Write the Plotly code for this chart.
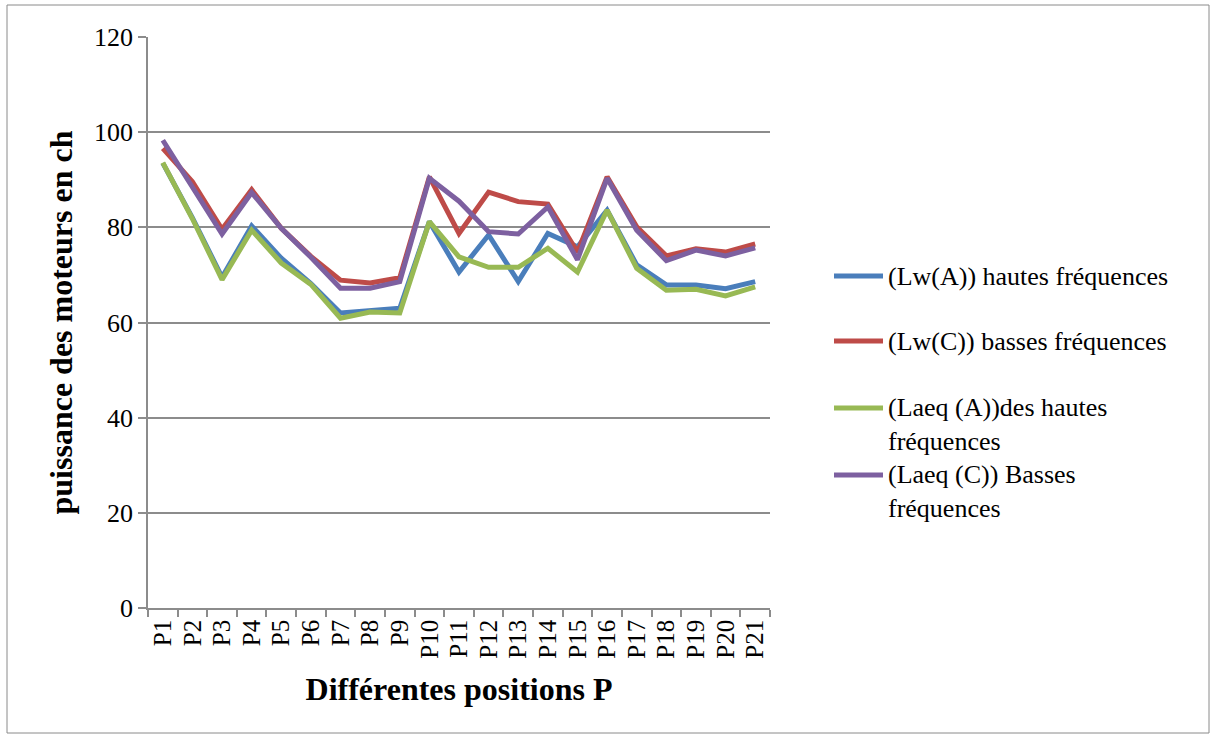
import plotly.graph_objects as go

categories = [f"P{i}" for i in range(1, 22)]

lw_a = [93.5, 82.0, 69.5, 80.3, 73.5, 68.2, 62.0, 62.6, 63.0, 81.2, 70.6, 78.4, 68.6, 78.7, 75.9, 83.6, 72.1, 67.9, 67.9, 67.1, 68.6]
lw_c = [96.6, 89.6, 79.6, 87.9, 79.8, 73.9, 68.9, 68.3, 69.4, 90.6, 78.7, 87.4, 85.4, 84.9, 74.8, 90.6, 80.1, 74.0, 75.5, 74.8, 76.5]
laeq_a = [93.6, 81.8, 69.0, 79.4, 72.5, 68.0, 60.9, 62.2, 62.0, 81.2, 73.8, 71.6, 71.6, 75.6, 70.6, 83.6, 71.4, 66.8, 67.0, 65.6, 67.5]
laeq_c = [98.3, 88.2, 78.6, 87.3, 79.8, 73.7, 67.2, 67.2, 68.6, 90.3, 85.5, 79.1, 78.6, 84.3, 73.2, 90.3, 79.4, 73.0, 75.2, 74.0, 75.7]

series_names = [
    "(Lw(A)) hautes fréquences",
    "(Lw(C)) basses fréquences",
    "(Laeq (A))des hautes<br>fréquences",
    "(Laeq (C)) Basses<br>fréquences",
]
series_values = [lw_a, lw_c, laeq_a, laeq_c]
colors = ["#4A7EBB", "#BE4B48", "#98B954", "#7D60A0"]

y_ticks = [0, 20, 40, 60, 80, 100, 120]

FONT = "Liberation Serif"
GRID = "#8C8C8C"

# plot area in pixels
L, R, T, B = 148, 770, 37, 608
W, H = 1214, 738
pw, ph = R - L, B - T


def px(x):
    return (x - L) / pw


def py(y):
    return (B - y) / ph


fig = go.Figure()
for name, vals, col in zip(series_names, series_values, colors):
    fig.add_trace(go.Scatter(
        x=categories, y=vals, mode="lines", name=name,
        line=dict(color=col, width=5), showlegend=False,
    ))

# manual legend (line samples + text)
legend_y = [276, 341, 408, 475]
for name, col, ly in zip(series_names, colors, legend_y):
    fig.add_shape(type="line", xref="paper", yref="paper",
                  x0=px(834), x1=px(883), y0=py(ly), y1=py(ly),
                  line=dict(color=col, width=5))
    multi = "<br>" in name
    fig.add_annotation(
        xref="paper", yref="paper", x=px(886), y=py(ly - 17) if multi else py(ly),
        xanchor="left", yanchor="top" if multi else "middle",
        text=name, showarrow=False, align="left",
        font=dict(family=FONT, size=26, color="black"),
    )

# outer border
fig.add_shape(type="rect", xref="paper", yref="paper",
              x0=px(7), x1=px(1209), y0=py(733), y1=py(5),
              line=dict(color="#8A8A8A", width=1), layer="below")

fig.update_layout(
    width=W, height=H,
    margin=dict(l=L, r=W - R, t=T, b=H - B),
    plot_bgcolor="white", paper_bgcolor="white",
    font=dict(family=FONT, color="black"),
    showlegend=False,
)
fig.update_xaxes(
    type="category", tickangle=-90, tickson="boundaries",
    tickmode="linear", tick0=0, dtick=1,
    ticks="outside", ticklen=7, tickcolor=GRID, tickwidth=1.5,
    showline=True, linecolor=GRID, linewidth=1.5,
    showgrid=False, tickfont=dict(family=FONT, size=25),
    title=dict(text="<b>Différentes positions P</b>", font=dict(family=FONT, size=32), standoff=20),
    range=[-0.5, 20.5],
)
fig.update_yaxes(
    range=[0, 120], tickvals=y_ticks,
    ticks="outside", ticklen=8, tickcolor=GRID, tickwidth=1.5,
    showline=True, linecolor=GRID, linewidth=1.5,
    showgrid=True, gridcolor=GRID, gridwidth=1.5,
    zeroline=False, tickfont=dict(family=FONT, size=26),
    title=dict(text="<b>puissance des moteurs en ch</b>", font=dict(family=FONT, size=32), standoff=12),
)

fig.write_html("out.html")
